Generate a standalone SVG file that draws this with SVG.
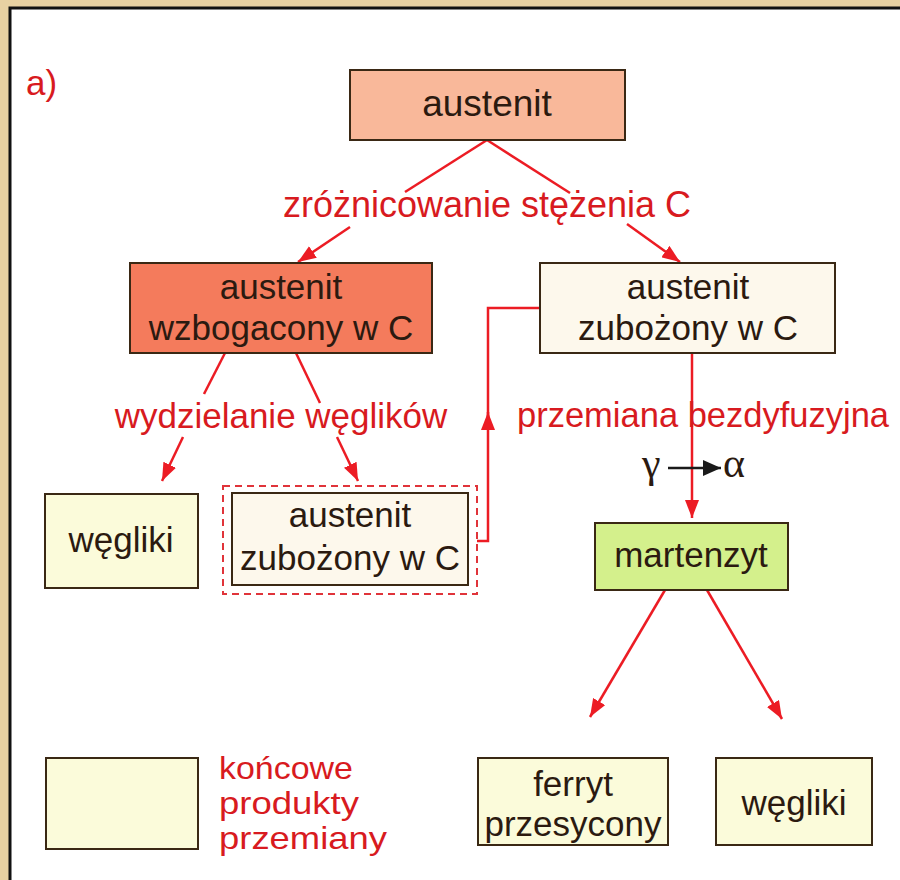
<svg xmlns="http://www.w3.org/2000/svg" width="900" height="880" viewBox="0 0 900 880">
<style>
.bx{stroke:#3a2814;stroke-width:2}
.t{font-family:"Liberation Sans",Arial,sans-serif;font-size:35px;fill:#2b1a10;text-anchor:middle}
.lbl{font-family:"Liberation Sans",Arial,sans-serif;font-size:35px;fill:#d81a20}
.lg{font-family:"Liberation Sans",Arial,sans-serif;font-size:32px;fill:#d81a20}
.c{stroke:#ec1c24;stroke-width:2.5;fill:none}
.gr{font-family:"Liberation Serif","Times New Roman",serif;font-size:42px;fill:#2b1a10}
</style>
<defs>
<marker id="ar" markerUnits="userSpaceOnUse" markerWidth="18" markerHeight="14" refX="18" refY="7" orient="auto"><path d="M0,0 L18,7 L0,14 z" fill="#ec1c24"/></marker>
<marker id="ak" markerUnits="userSpaceOnUse" markerWidth="18" markerHeight="16" refX="18" refY="8" orient="auto"><path d="M0,0 L18,8 L0,16 z" fill="#1a1a1a"/></marker>
</defs>
<rect x="0" y="0" width="900" height="880" fill="#e8d1a2"/>
<rect x="10" y="8" width="900" height="890" fill="#ffffff" stroke="#111" stroke-width="3"/>
<text x="26" y="95" class="lbl">a)</text>

<g id="connectors">
<path class="c" d="M487,140 L405,192"/>
<path class="c" d="M350,227 L298,262" marker-end="url(#ar)"/>
<path class="c" d="M487,140 L570,193"/>
<path class="c" d="M627,224 L680,262" marker-end="url(#ar)"/>
<path class="c" d="M225,353 L204,394"/>
<path class="c" d="M183,437 L162,481" marker-end="url(#ar)"/>
<path class="c" d="M296,353 L320,403"/>
<path class="c" d="M337,437 L358,481" marker-end="url(#ar)"/>
<path class="c" d="M477,541 H488 V412" marker-end="url(#ar)"/>
<path class="c" d="M488,424 V308 H540"/>
<path class="c" d="M692,353 V518" marker-end="url(#ar)"/>
<path class="c" d="M665,590 L590,717" marker-end="url(#ar)"/>
<path class="c" d="M707,590 L782,719" marker-end="url(#ar)"/>
<path d="M668,468 H721" stroke="#1a1a1a" stroke-width="2.5" marker-end="url(#ak)"/>
</g>

<text x="487" y="217" class="lbl" text-anchor="middle" style="font-size:36px">zróżnicowanie stężenia C</text>
<text x="281" y="428" class="lbl" text-anchor="middle">wydzielanie węglików</text>
<text x="517" y="427" class="lbl" style="font-size:34.5px">przemiana bezdyfuzyjna</text>
<text x="642" y="477" class="gr">γ</text>
<text x="723" y="477" class="gr">α</text>

<g id="n-austenit">
<rect x="350" y="70" width="275" height="70" class="bx" fill="#f9b89a"/>
<text x="487" y="116" class="t" style="font-size:37px">austenit</text>
</g>
<g id="n-wzbogacony">
<rect x="130" y="263" width="302" height="90" class="bx" fill="#f47b5c"/>
<text x="281" y="299" class="t">austenit</text>
<text x="281" y="340" class="t">wzbogacony w C</text>
</g>
<g id="n-zubozony">
<rect x="540" y="263" width="295" height="90" class="bx" fill="#fdf8ec"/>
<text x="688" y="299" class="t">austenit</text>
<text x="688" y="340" class="t">zubożony w C</text>
</g>
<g id="n-wegliki1">
<rect x="45" y="494" width="153" height="94" class="bx" fill="#fbfbda"/>
<text x="121" y="552" class="t">węgliki</text>
</g>
<g id="n-zubozony2">
<rect x="223" y="486" width="254" height="108" fill="none" stroke="#e0343a" stroke-width="2" stroke-dasharray="7,5"/>
<rect x="232" y="493" width="236" height="92" class="bx" fill="#fdf8ec"/>
<text x="350" y="527" class="t">austenit</text>
<text x="350" y="570" class="t">zubożony w C</text>
</g>
<g id="n-martenzyt">
<rect x="595" y="523" width="193" height="67" class="bx" fill="#d4f08c"/>
<text x="691" y="567" class="t" fill="#151a0a">martenzyt</text>
</g>
<g id="n-ferryt">
<rect x="478" y="758" width="190" height="87" class="bx" fill="#fbfbda"/>
<text x="573" y="796" class="t">ferryt</text>
<text x="573" y="836" class="t">przesycony</text>
</g>
<g id="n-wegliki2">
<rect x="716" y="758" width="156" height="87" class="bx" fill="#fbfbda"/>
<text x="794" y="815" class="t">węgliki</text>
</g>
<g id="legend">
<rect x="46" y="758" width="152" height="91" class="bx" fill="#fbfbda"/>
<text x="219" y="779" class="lg" textLength="134" lengthAdjust="spacingAndGlyphs">końcowe</text>
<text x="219" y="814" class="lg" textLength="140" lengthAdjust="spacingAndGlyphs">produkty</text>
<text x="219" y="849" class="lg" textLength="168" lengthAdjust="spacingAndGlyphs">przemiany</text>
</g>
</svg>
